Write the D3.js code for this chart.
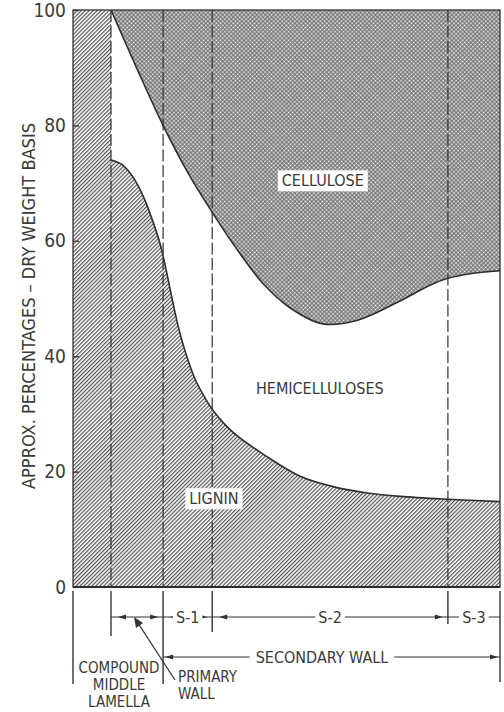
<!DOCTYPE html>
<html>
<head>
<meta charset="utf-8">
<script src="https://cdn.jsdelivr.net/npm/d3@7"></script>
<style>
  body { margin: 0; background: #fff; }
  text { font-family: "Liberation Sans Narrow", "Arial Narrow", "DejaVu Sans Condensed", "Liberation Sans", sans-serif; fill: #3a3a3a; }
</style>
</head>
<body>
<svg id="paper" width="504" height="712"></svg>
<script>
// position across the wall, 0 = centre of middle lamella, 100 = lumen side
var boundaries = [0, 8.9, 21.1, 32.6, 87.8, 100];
var yTicks = [0, 20, 40, 60, 80, 100];

// top of hemicelluloses = lower edge of cellulose
var celluloseX = [8.9, 15, 21.1, 26.9, 32.8, 38.6, 44.5, 50.8, 58.5, 66.5, 75.9, 83.6, 87.8, 93, 100];
var celluloseY = [100, 89.8, 80, 71.8, 64.7, 58.3, 52.6, 48.4, 45.6, 46.2, 49.3, 52.3, 53.5, 54.3, 54.8];

// top of lignin
var ligninX = [8.9, 11.5, 14.1, 16.4, 18.5, 20.4, 21.8, 23.2, 24.6, 26.2, 28.6, 30.9, 32.8, 37.5, 45.4, 53.2, 60.9, 68.9, 76.6, 87.8, 100];
var ligninY = [74, 73.2, 71, 67.8, 63.8, 59.5, 55, 50, 45.3, 41, 36, 32.8, 30.6, 26.8, 22.6, 19.2, 17.4, 16.3, 15.7, 15.2, 14.8];

// compound middle lamella is all lignin
var lamellaX = [0, 8.9];
var lamellaY = [100, 100];

var regionNames = ["CELLULOSE", "HEMICELLULOSES", "LIGNIN"];
var regionX = [58.5, 57.8, 33];
var regionY = [70.4, 34.4, 15.3];

var layerNames = ["", "S-1", "S-2", "S-3"];
var layerArrows = [true, true, true, false];

var svg = d3.select("#paper");
var plotLeft = 73, plotRight = 500, plotTop = 10, plotBottom = 587;

var x = d3.scaleLinear().domain([0, 100]).range([plotLeft, plotRight]);
var y = d3.scaleLinear().domain([0, 100]).range([plotBottom, plotTop]);
var smooth = d3.curveCatmullRom.alpha(0.5);

// hatch patterns
var defs = svg.append("defs");
defs.append("pattern")
    .attr("id", "hatch")
    .attr("width", 2.8).attr("height", 2.8)
    .attr("patternUnits", "userSpaceOnUse")
    .attr("patternTransform", "rotate(45)")
    .append("line")
    .attr("x1", 0.6).attr("y1", 0).attr("x2", 0.6).attr("y2", 2.8)
    .attr("stroke", "#4a4a4a").attr("stroke-width", 1.15);

var cross = defs.append("pattern")
    .attr("id", "cross")
    .attr("width", 3).attr("height", 3)
    .attr("patternUnits", "userSpaceOnUse")
    .attr("patternTransform", "rotate(45)");
cross.append("rect").attr("width", 3).attr("height", 3).attr("fill", "#666");
cross.append("rect").attr("x", 0.6).attr("y", 0.6).attr("width", 1.8).attr("height", 1.8).attr("fill", "#fff");

function toPoints(xs, ys) {
    return xs.map(function (d, i) { return [d, ys[i]]; });
}

var cellulosePts = toPoints(celluloseX, celluloseY);
var ligninPts = toPoints(ligninX, ligninY);
var lamellaPts = toPoints(lamellaX, lamellaY);

// cellulose band: curve up to 100
svg.append("path")
    .datum(cellulosePts)
    .attr("fill", "url(#cross)")
    .attr("d", d3.area().curve(smooth)
        .x(function (d) { return x(d[0]); })
        .y0(y(100))
        .y1(function (d) { return y(d[1]); }));

// lignin
svg.append("path")
    .datum(ligninPts)
    .attr("fill", "url(#hatch)")
    .attr("d", d3.area().curve(smooth)
        .x(function (d) { return x(d[0]); })
        .y0(y(0))
        .y1(function (d) { return y(d[1]); }));

svg.append("path")
    .datum(lamellaPts)
    .attr("fill", "url(#hatch)")
    .attr("d", d3.area()
        .x(function (d) { return x(d[0]); })
        .y0(y(0))
        .y1(function (d) { return y(d[1]); }));

// curve outlines
var line = d3.line().curve(smooth)
    .x(function (d) { return x(d[0]); })
    .y(function (d) { return y(d[1]); });

[cellulosePts, ligninPts].forEach(function (pts) {
    svg.append("path")
        .datum(pts)
        .attr("fill", "none")
        .attr("stroke", "#2e2e2e")
        .attr("stroke-width", 1.6)
        .attr("d", line);
});

// layer boundaries (dashed)
svg.selectAll(".bound")
    .data(boundaries.slice(1, 5))
    .enter().append("line")
    .attr("class", "bound")
    .attr("x1", function (d) { return x(d); })
    .attr("x2", function (d) { return x(d); })
    .attr("y1", y(100)).attr("y2", y(0))
    .attr("stroke", "#333")
    .attr("stroke-width", 1.2)
    .attr("stroke-dasharray", "12,3.5");

// frame
svg.append("rect")
    .attr("x", plotLeft).attr("y", plotTop)
    .attr("width", plotRight - plotLeft).attr("height", plotBottom - plotTop)
    .attr("fill", "none")
    .attr("stroke", "#333")
    .attr("stroke-width", 1.3);
svg.append("line")
    .attr("x1", plotLeft).attr("x2", plotRight)
    .attr("y1", plotBottom).attr("y2", plotBottom)
    .attr("stroke", "#2a2a2a").attr("stroke-width", 2);

// y axis
var yAxis = svg.append("g")
    .attr("transform", "translate(" + plotLeft + ",0)")
    .call(d3.axisLeft(y).tickValues(yTicks).tickSize(-6).tickPadding(7));
yAxis.select(".domain").remove();
yAxis.selectAll(".tick line").attr("stroke", "#333").attr("stroke-width", 1.3);
yAxis.selectAll(".tick text")
    .attr("font-size", 19)
    .attr("font-family", null)
    .attr("fill", "#3a3a3a");

svg.append("text")
    .attr("transform", "translate(29," + 306 + ") rotate(-90)")
    .attr("text-anchor", "middle")
    .attr("dominant-baseline", "central")
    .attr("font-size", 17)
    .attr("textLength", 366)
    .attr("lengthAdjust", "spacingAndGlyphs")
    .text("APPROX. PERCENTAGES \u2013 DRY WEIGHT BASIS");

// region labels
function boxedText(px, py, str, size, boxed) {
    var g = svg.append("g");
    var t = g.append("text")
        .attr("x", px).attr("y", py)
        .attr("text-anchor", "middle")
        .attr("dominant-baseline", "central")
        .attr("font-size", size)
        .text(str);
    if (boxed) {
        var b = t.node().getBBox();
        g.insert("rect", "text")
            .attr("x", b.x - 4).attr("y", b.y - 1)
            .attr("width", b.width + 8).attr("height", b.height + 2)
            .attr("fill", "#fff");
    }
    return g;
}

regionNames.forEach(function (name, i) {
    boxedText(x(regionX[i]), y(regionY[i]), name, 16, name != "HEMICELLULOSES");
});

// ---- wall layer key below the axis ----
var ink = "#333";
var extTop = plotBottom + 4;
var extLen = [93, 45, 93, 41, 33, 91];
boundaries.forEach(function (b, i) {
    svg.append("line")
        .attr("x1", x(b)).attr("x2", x(b))
        .attr("y1", extTop).attr("y2", extTop + extLen[i])
        .attr("stroke", ink).attr("stroke-width", 1.4);
});

function arrowHead(px, py, dir) {
    // dir = -1 points left, 1 points right
    svg.append("path")
        .attr("d", "M" + px + "," + py + "L" + (px - dir * 8) + "," + (py - 2.6) + "L" + (px - dir * 8) + "," + (py + 2.6) + "Z")
        .attr("fill", ink);
}

var rowY = 617;
layerNames.forEach(function (name, i) {
    var a = x(boundaries[i + 1]), b = x(boundaries[i + 2]);
    svg.append("line")
        .attr("x1", a).attr("x2", b)
        .attr("y1", rowY).attr("y2", rowY)
        .attr("stroke", ink).attr("stroke-width", 1.2);
    if (layerArrows[i]) {
        arrowHead(a + 7, rowY, -1);
        arrowHead(b - 5, rowY, 1);
    }
    if (name) {
        var g = boxedText((a + b) / 2, rowY, name, 16, false);
        var bb = g.select("text").node().getBBox();
        g.insert("rect", "text")
            .attr("x", bb.x - 3).attr("y", bb.y)
            .attr("width", bb.width + 6).attr("height", bb.height)
            .attr("fill", "#fff");
    }
});

// secondary wall span
var secY = 657;
svg.append("line")
    .attr("x1", x(boundaries[2])).attr("x2", x(boundaries[5]))
    .attr("y1", secY).attr("y2", secY)
    .attr("stroke", ink).attr("stroke-width", 1.2);
arrowHead(x(boundaries[2]) + 2, secY, -1);
arrowHead(x(boundaries[5]) - 2, secY, 1);
var sec = boxedText(322, secY, "SECONDARY WALL", 16, false);
var sb = sec.select("text").node().getBBox();
sec.insert("rect", "text")
    .attr("x", sb.x - 6).attr("y", sb.y)
    .attr("width", sb.width + 12).attr("height", sb.height)
    .attr("fill", "#fff");

// leader to the primary wall dimension
svg.append("line")
    .attr("x1", 136).attr("y1", 620)
    .attr("x2", 175).attr("y2", 680)
    .attr("stroke", ink).attr("stroke-width", 1.3);
svg.append("path")
    .attr("d", "M134,617 L136,628 L143,623 Z")
    .attr("fill", ink);

var lamellaLines = ["COMPOUND", "MIDDLE", "LAMELLA"];
lamellaLines.forEach(function (s, i) {
    svg.append("text")
        .attr("x", 119).attr("y", 668 + i * 17)
        .attr("text-anchor", "middle")
        .attr("dominant-baseline", "central")
        .attr("font-size", 15)
        .text(s);
});

["PRIMARY", "WALL"].forEach(function (s, i) {
    svg.append("text")
        .attr("x", 178).attr("y", 677 + i * 17)
        .attr("dominant-baseline", "central")
        .attr("font-size", 15)
        .text(s);
});
</script>
</body>
</html>
